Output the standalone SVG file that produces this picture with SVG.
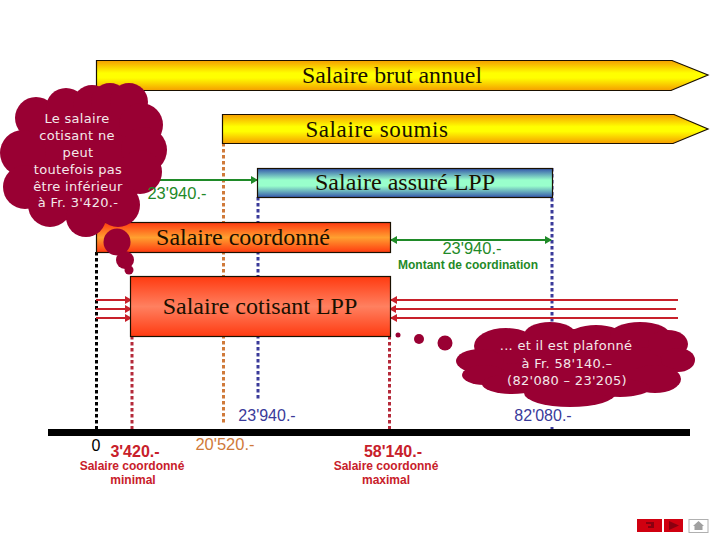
<svg xmlns="http://www.w3.org/2000/svg" width="720" height="540" viewBox="0 0 720 540">
<style>
.bar{stroke:#1a1000;stroke-width:1.2}
.t{font-family:"Liberation Serif",serif;fill:#1a1000;text-anchor:middle}
.a{font-family:"Liberation Sans",sans-serif;text-anchor:middle}
.c{font-family:"DejaVu Sans",sans-serif;font-size:13px;fill:#f4e8ea;text-anchor:middle;letter-spacing:.3px}
.cloud{fill:#990033}
.d{fill:none;stroke-width:3;stroke-dasharray:3.500 2.500}
.r{stroke:#c8202a;stroke-width:2.200;fill:none}
.g{stroke:#1f8a28;stroke-width:2;fill:none}
</style>
<defs>
<linearGradient id="y" x1="0" y1="0" x2="0" y2="1"><stop offset="0" stop-color="#f59e00"/><stop offset=".42" stop-color="#ffff00"/><stop offset=".58" stop-color="#ffff00"/><stop offset="1" stop-color="#f59e00"/></linearGradient>
<linearGradient id="b" x1="0" y1="0" x2="0" y2="1"><stop offset="0" stop-color="#3355aa"/><stop offset=".4" stop-color="#99ffcc"/><stop offset=".6" stop-color="#99ffcc"/><stop offset="1" stop-color="#3355aa"/></linearGradient>
<linearGradient id="o" x1="0" y1="0" x2="0" y2="1"><stop offset="0" stop-color="#ff3a10"/><stop offset=".5" stop-color="#ffa030"/><stop offset="1" stop-color="#ff3a10"/></linearGradient>
<linearGradient id="rr" x1="0" y1="0" x2="0" y2="1"><stop offset="0" stop-color="#ff3a10"/><stop offset=".5" stop-color="#ff8060"/><stop offset="1" stop-color="#ff3a10"/></linearGradient>
<marker id="mr" markerUnits="userSpaceOnUse" markerWidth="7" markerHeight="8" refX="6" refY="4" orient="auto"><path d="M0 0L7 4L0 8Z" fill="#c8202a"/></marker>
<marker id="mg" markerUnits="userSpaceOnUse" markerWidth="7" markerHeight="8" refX="6" refY="4" orient="auto-start-reverse"><path d="M0 0L7 4L0 8Z" fill="#1f8a28"/></marker>
</defs>
<rect width="720" height="540" fill="#fff"/>
<g id="connectors">
<path class="d" stroke="#000" d="M96.500 252V430"/>
<path class="d" stroke="#b52a3a" d="M132 336V432"/>
<path class="d" stroke="#d07a3a" d="M223.500 143V425"/>
<path class="d" stroke="#3a3a9a" d="M258 197V400M258 430V433"/>
<path class="d" stroke="#3a3a9a" d="M552 168V322M552 427V431"/>
<path class="d" stroke="#b52a3a" d="M389.500 336V432"/>
<path class="g" marker-end="url(#mg)" d="M150 180H257"/>
<path class="g" marker-start="url(#mg)" marker-end="url(#mg)" d="M391 240H551"/>
<path class="r" marker-end="url(#mr)" d="M96 300H131"/>
<path class="r" marker-end="url(#mr)" d="M96 309H131"/>
<path class="r" marker-end="url(#mr)" d="M96 318H131"/>
<path class="r" marker-end="url(#mr)" d="M678 300H391"/>
<path class="r" marker-end="url(#mr)" d="M676 309H390"/>
<path class="r" marker-end="url(#mr)" d="M678 318H391"/>
</g>
<g id="brut"><path class="bar" fill="url(#y)" d="M96.500 60.500H672L708 75L671 90.500H96.500Z"/><text class="t" x="392" y="83" font-size="24" textLength="180" lengthAdjust="spacingAndGlyphs">Salaire brut annuel</text></g>
<g id="soumis"><path class="bar" fill="url(#y)" d="M222.500 114.500H674L708 129L673 143.500H222.500Z"/><text class="t" x="377" y="137" font-size="23" letter-spacing=".6">Salaire soumis</text></g>
<g id="assure"><rect class="bar" x="257.500" y="168.500" width="295" height="29" fill="url(#b)"/><text class="t" x="405" y="190" font-size="24">Salaire assuré LPP</text></g>
<g id="coordonne"><rect class="bar" x="96.500" y="222.500" width="294" height="30" fill="url(#o)"/><text class="t" x="243" y="245" font-size="24">Salaire coordonné</text></g>
<g id="cotisant"><rect class="bar" x="130.500" y="276.500" width="260" height="60" fill="url(#rr)"/><text class="t" x="260" y="314" font-size="24">Salaire cotisant LPP</text></g>
<g id="cloud-min" class="cloud">
<ellipse cx="82" cy="160" rx="66" ry="62"/>
<circle cx="36" cy="118" r="21"/><circle cx="66" cy="108" r="20"/><circle cx="92" cy="104" r="19"/><circle cx="110" cy="102" r="19"/><circle cx="129" cy="102" r="19"/><circle cx="141" cy="125" r="22"/><circle cx="144" cy="150" r="23"/><circle cx="140" cy="172" r="22"/><circle cx="23" cy="153" r="23"/><circle cx="25" cy="187" r="22"/><circle cx="50" cy="205" r="22"/><circle cx="86" cy="217" r="20"/><circle cx="118" cy="205" r="22"/>
<circle cx="117" cy="242" r="13.500"/><circle cx="125" cy="260" r="9"/><circle cx="129" cy="270" r="4.500"/>
<text class="c" x="77" y="123">Le salaire</text><text class="c" x="77" y="140">cotisant ne</text><text class="c" x="78" y="157">peut</text><text class="c" x="78" y="174">toutefois pas</text><text class="c" x="78" y="191">être inférieur</text><text class="c" x="78" y="207">à Fr. 3'420.-</text>
</g>
<g id="cloud-max" class="cloud">
<ellipse cx="575" cy="362" rx="105" ry="33"/>
<ellipse cx="506" cy="346" rx="32" ry="18"/><ellipse cx="550" cy="335" rx="26" ry="13"/><ellipse cx="596" cy="337" rx="28" ry="12"/><ellipse cx="640" cy="335" rx="30" ry="13"/><ellipse cx="668" cy="344" rx="20" ry="14"/><ellipse cx="678" cy="360" rx="17" ry="12"/><ellipse cx="480" cy="361" rx="24" ry="12"/><ellipse cx="484" cy="375" rx="22" ry="10"/><ellipse cx="655" cy="379" rx="26" ry="14"/><ellipse cx="512" cy="384" rx="30" ry="10"/><ellipse cx="570" cy="393" rx="46" ry="14"/><ellipse cx="620" cy="388" rx="30" ry="9"/>
<circle cx="445" cy="343" r="7.500"/><circle cx="419" cy="339" r="5"/><circle cx="398" cy="335" r="2.500"/>
<text class="c" x="566" y="350">... et il est plafonné</text><text class="c" x="567" y="368">à Fr. 58'140.–</text><text class="c" x="567" y="385">(82'080 – 23'205)</text>
</g>
<g id="axis"><rect x="48" y="429" width="642" height="7" fill="#000"/></g>
<g id="labels" class="a">
<text x="177" y="199" font-size="16.500" fill="#1f8a28">23'940.-</text>
<text x="472" y="254" font-size="16.500" fill="#1f8a28">23'940.-</text>
<text x="468" y="269" font-size="12" font-weight="bold" fill="#1f8a28">Montant de coordination</text>
<text x="267" y="421" font-size="16" fill="#3a3a9a">23'940.-</text>
<text x="543" y="421" font-size="16" fill="#3a3a9a">82'080.-</text>
<text x="96" y="451" font-size="16" fill="#000">0</text>
<text x="135" y="457" font-size="16" font-weight="bold" fill="#c8202a">3'420.-</text>
<text x="132" y="470" font-size="12" font-weight="bold" fill="#c8202a">Salaire coordonné</text>
<text x="133" y="484" font-size="12" font-weight="bold" fill="#c8202a">minimal</text>
<text x="225" y="450" font-size="16.500" fill="#d07a3a">20'520.-</text>
<text x="393" y="457" font-size="16" font-weight="bold" fill="#c8202a">58'140.-</text>
<text x="386" y="470" font-size="12" font-weight="bold" fill="#c8202a">Salaire coordonné</text>
<text x="386" y="484" font-size="12" font-weight="bold" fill="#c8202a">maximal</text>
</g>
<g id="nav">
<rect x="637" y="519" width="25" height="13" fill="#d00010"/><path d="M646 522H654V528H648V526H651V524H646Z" fill="#8a0010"/>
<rect x="664" y="519" width="19" height="13" fill="#d00010"/><path d="M669 521L679 525.500L669 530Z" fill="#8a0010"/>
<rect x="689" y="519.500" width="19" height="13" fill="#fff" stroke="#b0b0b0"/><path d="M698.500 521L704 526H702.500V530H694.500V526H693Z" fill="#a0a0a0"/>
</g>
</svg>
